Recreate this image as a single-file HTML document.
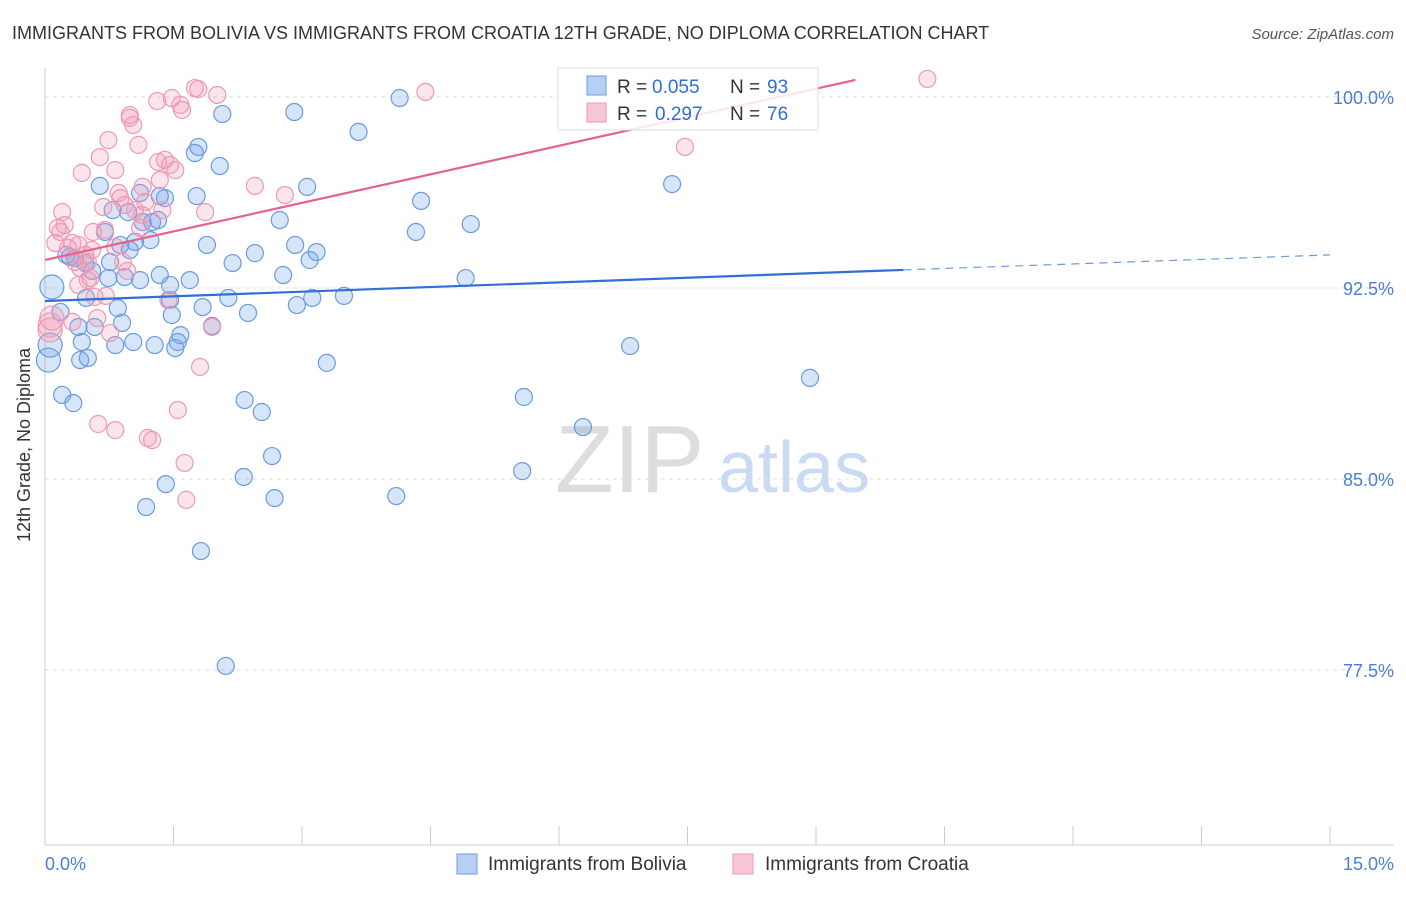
<!DOCTYPE html>
<html><head><meta charset="utf-8"><style>
body{margin:0;background:#fff;font-family:"Liberation Sans",sans-serif}
svg text{font-family:"Liberation Sans",sans-serif}
</style></head><body>
<svg id="c" width="1406" height="892" xmlns="http://www.w3.org/2000/svg">
<text x="12" y="39" font-size="18" fill="#333">IMMIGRANTS FROM BOLIVIA VS IMMIGRANTS FROM CROATIA 12TH GRADE, NO DIPLOMA CORRELATION CHART</text>
<text x="1394" y="39" font-size="15" fill="#555" text-anchor="end" font-style="italic">Source: ZipAtlas.com</text>
<text x="40" y="455" font-size="18" fill="#333" transform="rotate(-90 30 455)" text-anchor="middle">12th Grade, No Diploma</text>
<g id="grid"></g>
<text x="555" y="492" font-size="96" fill="#ddd" font-family="Liberation Serif">ZIP</text>
<text x="718" y="492" font-size="72" fill="#c9daf2">atlas</text>
<g id="pts"></g>
<g id="lines"></g>
<g>
<rect x="558" y="68" width="260" height="62" fill="#fff" fill-opacity="0.85" stroke="#ddd"/>
<rect x="587" y="76" width="19" height="19" fill="#b5cff5" stroke="#6a9be0"/>
<text x="617" y="93" font-size="19" fill="#333">R =</text>
<text x="652" y="93" font-size="19" fill="#2f6fd6">0.055</text>
<text x="730" y="93" font-size="19" fill="#333">N =</text>
<text x="767" y="93" font-size="19" fill="#2f6fd6">93</text>
<rect x="587" y="103" width="19" height="19" fill="#f8c6d6" stroke="#ee99b4"/>
<text x="617" y="120" font-size="19" fill="#333">R =</text>
<text x="655" y="120" font-size="19" fill="#2f6fd6">0.297</text>
<text x="730" y="120" font-size="19" fill="#333">N =</text>
<text x="767" y="120" font-size="19" fill="#2f6fd6">76</text>
</g>
<g>
<rect x="457" y="854" width="20" height="20" fill="#b5cff5" stroke="#6a9be0"/>
<text x="488" y="870" font-size="19" fill="#333">Immigrants from Bolivia</text>
<rect x="733" y="854" width="20" height="20" fill="#f8c6d6" stroke="#ee99b4"/>
<text x="765" y="870" font-size="19" fill="#333">Immigrants from Croatia</text>
</g>
<text x="45" y="870" font-size="18" fill="#4a7fd4">0.0%</text>
<text x="1394" y="870" font-size="18" fill="#4a7fd4" text-anchor="end">15.0%</text>
</svg>
<script>
const yTicks=[100,92.5,85,77.5];
const yTickLabels=["100.0%","92.5%","85.0%","77.5%"];
const bolX=[0.08,0.04,0.06,0.18,0.2,0.33,0.39,0.43,0.41,0.5,0.58,0.29,0.47,0.64,0.7,0.76,0.82,0.85,0.9,0.93,0.97,0.99,1.03,1.05,1.11,1.14,1.25,1.28,1.32,1.34,1.4,1.46,1.48,1.52,1.55,1.58,1.69,1.75,1.77,1.79,1.84,1.89,1.95,2.04,2.07,2.14,2.19,2.33,2.37,2.45,2.53,2.65,2.68,2.74,2.78,2.91,2.92,2.94,3.06,3.09,3.12,3.17,3.29,3.49,3.66,4.14,4.1,4.39,4.33,4.91,4.97,5.59,5.57,6.28,6.83,7.32,8.93,1.41,1.18,1.82,2.11,2.32,0.88,0.74,0.55,0.25,0.35,0.79,0.48,1.34,1.23,1.46,1.11];
const bolY=[92.54,89.67,90.26,91.56,88.30,87.98,90.97,90.38,89.67,89.75,90.97,93.72,93.48,96.51,94.70,93.52,90.26,91.71,91.13,92.93,95.48,93.99,90.38,94.31,96.23,95.09,95.09,90.26,95.17,93.01,96.03,92.62,91.44,90.14,90.38,90.65,92.81,97.80,96.11,98.04,91.75,94.19,91.01,97.29,99.33,92.11,93.48,88.10,91.52,93.87,87.63,85.90,84.25,95.17,93.01,99.41,94.19,91.83,96.47,93.60,92.11,93.91,89.56,92.19,98.63,99.96,84.33,95.92,94.70,92.89,95.01,88.22,85.31,87.04,90.22,96.58,88.97,84.80,83.90,82.17,77.66,85.08,94.19,92.89,93.17,93.80,93.68,95.56,92.11,96.11,94.38,92.03,92.81];
const croX=[0.06,0.08,0.12,0.15,0.2,0.23,0.27,0.32,0.35,0.39,0.41,0.43,0.47,0.5,0.53,0.55,0.58,0.61,0.62,0.64,0.68,0.7,0.74,0.76,0.82,0.82,0.86,0.88,0.91,0.96,0.99,1.03,1.05,1.09,1.11,1.13,1.17,1.2,1.25,1.31,1.32,1.34,1.37,1.4,1.44,1.48,1.52,1.55,1.58,1.6,1.63,1.65,1.79,1.81,1.87,1.95,2.01,2.45,2.8,4.44,7.47,10.3,0.18,0.32,0.5,0.71,0.93,1.14,1.46,1.75,0.06,0.56,0.99,0.82,0.39];
const croY=[90.85,91.32,94.27,94.86,95.48,94.97,94.07,94.27,93.52,92.62,93.29,97.02,93.80,92.81,92.89,93.99,92.15,91.32,87.16,97.64,95.68,94.78,98.31,90.73,97.13,86.92,96.23,96.03,93.52,93.17,99.18,98.90,95.56,98.12,94.86,95.37,95.88,86.61,86.53,99.84,97.45,96.74,95.56,97.53,92.03,99.96,97.13,87.71,99.69,99.49,85.63,84.18,100.31,89.40,95.48,90.97,100.08,96.51,96.15,100.20,98.04,100.71,94.70,91.17,93.52,92.19,95.76,96.47,97.33,100.35,91.05,94.70,99.29,94.11,94.19];
const bolLine=[[0,91.99],[10.02,93.21]];
const bolDash=[[10.02,93.21],[15.0,93.8]];
const croLine=[[0,93.6],[9.46,100.67]];
const X=v=>45+v/1.5*128.5, Y=v=>97+(100-v)/7.5*191;
const NS="http://www.w3.org/2000/svg";
function mk(t,a,p){const e=document.createElementNS(NS,t);for(const k in a)e.setAttribute(k,a[k]);p.appendChild(e);return e;}
const g=document.getElementById('grid');
yTicks.forEach((t,i)=>{
 const l=mk('line',{x1:45,x2:1394,y1:Y(t),y2:Y(t),stroke:'#ddd','stroke-dasharray':'4,4'},g);
 
 
 const tx=mk('text',{x:1394,y:Y(t)+7,'font-size':18,fill:'#4a7fd4','text-anchor':'end'},g);
 tx.textContent=yTickLabels[i];
 
 
});
mk('line',{x1:45,x2:45,y1:68,y2:845,stroke:'#ccc'},g);
mk('line',{x1:45,x2:1394,y1:845,y2:845,stroke:'#ccc'},g);
for(let i=0;i<=10;i++){const t=mk('line',{x1:X(i*1.5),x2:X(i*1.5),y1:826,y2:845,stroke:'#ccc'},g);
 
 }
const pg=document.getElementById('pts');
function pts(xs,ys,fill,stroke,name){xs.forEach((x,i)=>{
 const r=x<0.1?12:8.5;
 const c=mk('circle',{cx:X(x),cy:Y(ys[i]),r:r,fill:fill,stroke:stroke,'stroke-width':1.2},pg);
 
 });}
pts(bolX,bolY,'rgba(110,160,235,0.28)','#6a9be0','bolivia-point');
pts(croX,croY,'rgba(240,150,180,0.25)','#ee99b4','croatia-point');
const lg=document.getElementById('lines');
function ln(p,col,dash,name){const l=mk('line',{x1:X(p[0][0]),y1:Y(p[0][1]),x2:X(p[1][0]),y2:Y(p[1][1]),stroke:col,'stroke-width':dash?1.2:2.2},lg);
 if(dash)l.setAttribute('stroke-dasharray','8,6');
 
 }
ln(bolLine,'#2f6fd6',false,'bolivia-trend-line');
ln(bolDash,'#6a9be0',true,'bolivia-trend-extension');
ln(croLine,'#e8608c',false,'croatia-trend-line');
</script>
</body></html>
